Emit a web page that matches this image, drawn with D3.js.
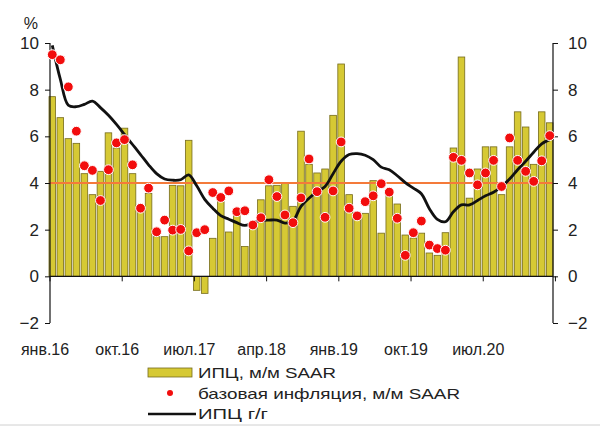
<!DOCTYPE html>
<html>
<head>
<meta charset="utf-8">
<script src="https://cdn.jsdelivr.net/npm/d3@7"></script>
<style>
  body { margin: 0; background: #fff; }
  text { font-family: "Liberation Sans", Arial, sans-serif; fill: #222; }
</style>
</head>
<body>
<div class="chart"></div>
<script>
// months Jan 2016 .. Mar 2021
const months = d3.timeMonth.range(new Date(2016, 0, 1), new Date(2021, 3, 1));

// ИПЦ, м/м SAAR (bars)
const cpiMoM = [7.7, 6.8, 5.9, 5.7, 4.4, 3.5, 4.5, 6.15, 5.5, 6.35, 4.4, 2.9,
  3.55, 1.7, 1.7, 3.9, 3.88, 5.83, -0.6, -0.73, 1.63, 3.2, 1.9, 2.6,
  1.28, 2.1, 3.28, 3.88, 3.9, 4.0, 3.0, 6.22, 4.8, 4.43, 4.6, 6.9,
  9.1, 3.5, 2.75, 2.7, 4.1, 1.85, 3.6, 3.1, 1.77, 1.64, 1.85, 1.0,
  0.9, 1.87, 5.5, 9.4, 3.35, 4.6, 5.55, 5.55, 3.5, 5.55, 7.05, 6.4,
  4.8, 7.05, 6.58];

// базовая инфляция, м/м SAAR (dots)
const coreMoM = [9.5, 9.28, 8.12, 6.22, 4.74, 4.54, 3.25, 4.57, 5.72, 5.86, 4.78, 2.92,
  3.78, 1.91, 2.41, 1.98, 2.01, 1.09, 1.87, 2.0, 3.59, 3.38, 3.66, 2.77,
  2.81, 2.2, 2.51, 4.14, 3.42, 2.63, 2.3, 3.36, 5.03, 3.63, 2.53, 3.66,
  5.76, 2.92, 2.59, 3.2, 3.45, 3.97, 3.61, 2.49, 0.9, 1.87, 2.37, 1.34,
  1.19, 1.12, 5.1, 4.97, 4.43, 3.92, 4.43, 4.97, 3.85, 5.93, 4.97, 4.5,
  4.07, 4.95, 6.03];

// ИПЦ г/г (line)
const cpiYoY = [9.9, 8.45, 7.33, 7.27, 7.37, 7.51, 7.23, 6.9, 6.51, 6.08, 5.65, 5.22,
  4.78, 4.4, 4.17, 4.12, 4.14, 4.35, 3.88, 3.3, 2.92, 2.6, 2.45, 2.3,
  2.18, 2.3, 2.39, 2.41, 2.41, 2.28, 2.38, 3.0, 3.35, 3.63, 3.85, 4.4,
  4.93, 5.22, 5.26, 5.19, 5.0, 4.68, 4.57, 4.31, 4.02, 3.78, 3.54, 2.9,
  2.44, 2.34, 2.77, 3.06, 3.06, 3.25, 3.45, 3.6, 3.85, 4.17, 4.57, 4.93,
  5.32, 5.68, 5.86];

const target = 4;
const yTicks = [-2, 0, 2, 4, 6, 8, 10];
const xTickLabels = ["янв.16", "окт.16", "июл.17", "апр.18", "янв.19", "окт.19", "июл.20"];
const tickEvery = 9;

const legendItems = ["ИПЦ, м/м SAAR", "базовая инфляция, м/м SAAR", "ИПЦ г/г"];

const width = 600, height = 427;
const plot = {left: 49, right: 553, top: 43, bottom: 323};

const svg = d3.select(".chart").append("svg")
    .attr("width", width)
    .attr("height", height);

const x = d3.scaleBand()
    .domain(d3.range(months.length))
    .range([plot.left, plot.right])
    .paddingInner(0.18);

const y = d3.scaleLinear()
    .domain([-2, 10])
    .range([plot.bottom, plot.top]);

const cx = i => x(i) + x.bandwidth() / 2;

// bars
svg.append("g").selectAll("rect")
    .data(cpiMoM)
  .enter().append("rect")
    .attr("x", (d, i) => x(i))
    .attr("width", x.bandwidth())
    .attr("y", d => y(Math.max(0, d)))
    .attr("height", d => Math.abs(y(d) - y(0)))
    .attr("fill", "#d6c934")
    .attr("stroke", "#756b1c")
    .attr("stroke-width", 0.8);

// target line
svg.append("line")
    .attr("x1", plot.left).attr("x2", plot.right)
    .attr("y1", y(target)).attr("y2", y(target))
    .attr("stroke", "#f47a3a")
    .attr("stroke-width", 2);

// zero axis
svg.append("line")
    .attr("x1", plot.left + 1).attr("x2", plot.right)
    .attr("y1", y(0)).attr("y2", y(0))
    .attr("stroke", "#111")
    .attr("stroke-width", 1.2);

// x ticks at category boundaries
const tickIdx = xTickLabels.map((d, i) => i * tickEvery);
svg.append("g").selectAll("line")
    .data(tickIdx.concat([months.length]))
  .enter().append("line")
    .attr("x1", i => plot.left + 1 + i * x.step())
    .attr("x2", i => plot.left + 1 + i * x.step())
    .attr("y1", y(0)).attr("y2", y(0) + 5)
    .attr("stroke", "#111");

svg.append("g").selectAll("text")
    .data(xTickLabels)
  .enter().append("text")
    .attr("x", (d, i) => plot.left + 1 + tickIdx[i] * x.step() - 5)
    .attr("y", 355)
    .attr("text-anchor", "middle")
    .style("font-size", "16px")
    .text(d => d);

// y axes
const yAxisL = d3.axisLeft(y).tickValues(yTicks).tickSize(5).tickPadding(6);
const yAxisR = d3.axisRight(y).tickValues(yTicks).tickSize(5).tickPadding(10);

const gL = svg.append("g")
    .attr("transform", "translate(" + (plot.left + 1) + ",0)")
    .call(yAxisL);
const gR = svg.append("g")
    .attr("transform", "translate(" + plot.right + ",0)")
    .call(yAxisR);

[gL, gR].forEach(g => {
  g.select(".domain").attr("stroke", "#111").attr("stroke-width", 1.2)
    .attr("d", "M0," + y(10) + "V" + y(-2));
  g.selectAll(".tick line").attr("stroke", "#111");
  g.selectAll(".tick text")
    .style("font-size", "17px")
    .style("font-family", "'Liberation Sans', Arial, sans-serif")
    .attr("fill", "#222");
});

svg.append("text")
    .attr("x", 38).attr("y", 29)
    .attr("text-anchor", "end")
    .style("font-size", "16px")
    .text("%");

// YoY line
const line = d3.line()
    .x((d, i) => cx(i))
    .y(d => y(d))
    .curve(d3.curveCatmullRom.alpha(0.5));

svg.append("path")
    .datum(cpiYoY)
    .attr("d", line)
    .attr("fill", "none")
    .attr("stroke", "#111")
    .attr("stroke-width", 2.8);

// core dots
svg.append("g").selectAll("circle")
    .data(coreMoM)
  .enter().append("circle")
    .attr("cx", (d, i) => cx(i))
    .attr("cy", d => y(d))
    .attr("r", 4.9)
    .attr("fill", "#f20d0d")
    .attr("stroke", "#fff")
    .attr("stroke-width", 1);

// legend
const legend = svg.append("g");
legend.append("rect")
    .attr("x", 148).attr("y", 368)
    .attr("width", 44).attr("height", 9)
    .attr("fill", "#d6c934")
    .attr("stroke", "#756b1c")
    .attr("stroke-width", 0.8);
legend.append("circle")
    .attr("cx", 170).attr("cy", 393)
    .attr("r", 3)
    .attr("fill", "#f20d0d");
legend.append("line")
    .attr("x1", 148).attr("x2", 196)
    .attr("y1", 414).attr("y2", 414)
    .attr("stroke", "#111")
    .attr("stroke-width", 2.6);

const legendW = [138, 262, 70];
legend.selectAll("text")
    .data(legendItems)
  .enter().append("text")
    .attr("x", 198)
    .attr("y", (d, i) => 378 + i * 20.5)
    .attr("textLength", (d, i) => legendW[i])
    .attr("lengthAdjust", "spacingAndGlyphs")
    .style("font-size", "15px")
    .text(d => d);

svg.append("line")
    .attr("x1", 0).attr("x2", width)
    .attr("y1", 425).attr("y2", 425)
    .attr("stroke", "#d0d0d0");
</script>
</body>
</html>
